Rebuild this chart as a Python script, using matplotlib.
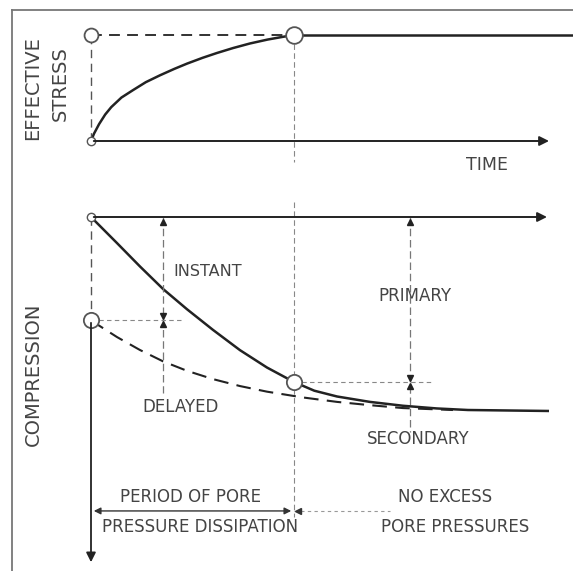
import matplotlib.pyplot as plt

W, H = 573, 571

# effective stress vs time (time: 1.0 = end of primary consolidation)
stress_t = [0, 0.015, 0.04, 0.07, 0.1, 0.15, 0.207, 0.27, 0.34, 0.41, 0.473,
            0.55, 0.62, 0.7, 0.783, 0.87, 0.946, 1.0]
stress_s = [0, 0.07, 0.16, 0.25, 0.32, 0.41, 0.48, 0.555, 0.62, 0.68, 0.73,
            0.785, 0.83, 0.877, 0.92, 0.957, 0.983, 1.0]

# total compression (solid curve)
total_t = [0, 0.128, 0.241, 0.355, 0.473, 0.601, 0.734, 0.867, 1.0,
           1.1, 1.212, 1.374, 1.537, 1.704, 1.857, 2.25]
total_c = [0, 0.135, 0.256, 0.373, 0.478, 0.585, 0.69, 0.78, 0.855,
           0.9, 0.93, 0.958, 0.978, 0.992, 1.0, 1.005]

# delayed compression (dashed curve)
delayed_t = [0, 0.03, 0.128, 0.241, 0.355, 0.473, 0.601, 0.734, 0.867,
             1.044, 1.212, 1.374, 1.537, 1.783]
delayed_c = [0.534, 0.556, 0.622, 0.689, 0.748, 0.797, 0.84, 0.876, 0.905,
             0.935, 0.958, 0.975, 0.99, 1.0]

instant_c = 0.534
primary_c = 0.855
end_primary = 1.0
instant_t = 0.355
primary_t = 1.571
t_max = (W - 91) / 203

ink = '#222222'
grey = '#555555'
txt = '#444444'

fig = plt.figure(figsize=(W / 100, H / 100), dpi=100)
fig.patch.set_facecolor('white')

# frame lines (left and top only)
fig.add_artist(plt.Line2D([12 / W, 12 / W], [0, 1 - 10 / H], color='#777777', lw=1.3))
fig.add_artist(plt.Line2D([12 / W, 1], [1 - 10 / H, 1 - 10 / H], color='#777777', lw=1.3))

# ---- top panel: effective stress ----
ax1 = fig.add_axes([91 / W, 1 - 141 / H, (W - 91) / W, 106 / H])
ax1.set_xlim(0, t_max)
ax1.set_ylim(0, 1)
ax1.axis('off')

ax1.plot(stress_t, stress_s, color=ink, lw=1.8, clip_on=False)
ax1.plot([0, end_primary], [1, 1], color=ink, lw=1.3, ls=(0, (6, 4)), clip_on=False)
ax1.plot([0, 0], [0, 1], color=grey, lw=1.0, ls=(0, (6, 4)), clip_on=False)
ax1.plot([end_primary, t_max], [1, 1], color=ink, lw=1.8, clip_on=False)
ax1.plot([end_primary, end_primary], [1, -0.2], color='#888888', lw=0.8,
         ls=(0, (5, 3)), clip_on=False)
ax1.annotate('', xy=(2.27, 0), xytext=(0, 0), annotation_clip=False,
             arrowprops=dict(arrowstyle='-|>', color=ink, lw=1.4, mutation_scale=14))
ax1.plot([0], [1], 'o', ms=10, mfc='white', mec=grey, mew=1.3, clip_on=False)
ax1.plot([end_primary], [1], 'o', ms=12, mfc='white', mec=grey, mew=1.3, clip_on=False)
ax1.plot([0], [0], 'o', ms=6, mfc='white', mec=grey, mew=1.0, clip_on=False)
ax1.text(1.951, -0.226, 'TIME', ha='center', va='center', fontsize=12.5, color=txt)

# ---- bottom panel: compression ----
ax2 = fig.add_axes([91 / W, 1 - 410 / H, (W - 91) / W, 193 / H])
ax2.set_xlim(0, t_max)
ax2.set_ylim(1, 0)
ax2.axis('off')

ax2.annotate('', xy=(2.26, 0), xytext=(0, 0), annotation_clip=False,
             arrowprops=dict(arrowstyle='-|>', color=ink, lw=1.4, mutation_scale=14))
ax2.plot([0, 0], [0, instant_c], color=grey, lw=1.0, ls=(0, (6, 4)), clip_on=False)
ax2.annotate('', xy=(0, 1.803), xytext=(0, instant_c), annotation_clip=False,
             arrowprops=dict(arrowstyle='-|>', color=ink, lw=1.3, mutation_scale=14))
ax2.plot([end_primary, end_primary], [-0.078, 1.554], color='#888888', lw=0.8,
         ls=(0, (5, 3)), clip_on=False)

ax2.plot(delayed_t, delayed_c, color=ink, lw=1.5, ls=(0, (7, 4)), clip_on=False)
ax2.plot(total_t, total_c, color=ink, lw=1.8, clip_on=False)

# instant / delayed dimension line
ax2.plot([instant_t, instant_t], [0, 0.912], color='#777777', lw=0.9,
         ls=(0, (6, 3)), clip_on=False)
ax2.plot([0, 0.448], [instant_c, instant_c], color='#888888', lw=0.8,
         ls=(0, (4, 3)), clip_on=False)
ax2.plot([instant_t], [0.025], '^', ms=5, color=ink, clip_on=False)
ax2.plot([instant_t], [instant_c - 0.022], 'v', ms=5, color=ink, clip_on=False)
ax2.plot([instant_t], [instant_c + 0.022], '^', ms=5, color=ink, clip_on=False)

# primary / secondary dimension line
ax2.plot([primary_t, primary_t], [0, 1.114], color='#777777', lw=0.9,
         ls=(0, (6, 3)), clip_on=False)
ax2.plot([end_primary, 1.68], [primary_c, primary_c], color='#888888', lw=0.8,
         ls=(0, (4, 3)), clip_on=False)
ax2.plot([primary_t], [0.025], '^', ms=5, color=ink, clip_on=False)
ax2.plot([primary_t], [primary_c - 0.022], 'v', ms=5, color=ink, clip_on=False)
ax2.plot([primary_t], [primary_c + 0.022], '^', ms=5, color=ink, clip_on=False)

ax2.plot([0], [0], 'o', ms=6, mfc='white', mec=grey, mew=1.0, clip_on=False)
ax2.plot([0], [instant_c], 'o', ms=11, mfc='white', mec=grey, mew=1.3, clip_on=False)
ax2.plot([end_primary], [primary_c], 'o', ms=11, mfc='white', mec=grey, mew=1.3, clip_on=False)

# pore pressure period arrows
ax2.annotate('', xy=(0, 1.523), xytext=(end_primary, 1.523), annotation_clip=False,
             arrowprops=dict(arrowstyle='<|-|>', color='#333333', lw=1.0, mutation_scale=10))
ax2.plot([end_primary, 1.473], [1.523, 1.523], color='#999999', lw=0.8,
         ls=(0, (3, 3)), clip_on=False)
ax2.plot([end_primary + 0.02], [1.523], '<', ms=5, color='#333333', clip_on=False)

ax2.text(0.576, 0.28, 'INSTANT', ha='center', va='center', fontsize=11.5, color=txt)
ax2.text(0.443, 0.984, 'DELAYED', ha='center', va='center', fontsize=12, color=txt)
ax2.text(1.596, 0.409, 'PRIMARY', ha='center', va='center', fontsize=12, color=txt)
ax2.text(1.611, 1.15, 'SECONDARY', ha='center', va='center', fontsize=12, color=txt)
ax2.text(0.488, 1.451, 'PERIOD OF PORE', ha='center', va='center', fontsize=12, color=txt)
ax2.text(0.537, 1.606, 'PRESSURE DISSIPATION', ha='center', va='center', fontsize=12, color=txt)
ax2.text(1.744, 1.451, 'NO EXCESS', ha='center', va='center', fontsize=12, color=txt)
ax2.text(1.793, 1.606, 'PORE PRESSURES', ha='center', va='center', fontsize=12, color=txt)

# rotated axis labels
fig.text(33 / W, 1 - 88 / H, 'EFFECTIVE', rotation=90, ha='center', va='center',
         fontsize=14, color=txt)
fig.text(60 / W, 1 - 84 / H, 'STRESS', rotation=90, ha='center', va='center',
         fontsize=14, color=txt)
fig.text(33 / W, 1 - 374 / H, 'COMPRESSION', rotation=90, ha='center', va='center',
         fontsize=14, color=txt)

fig.savefig('out.png', dpi=100)
